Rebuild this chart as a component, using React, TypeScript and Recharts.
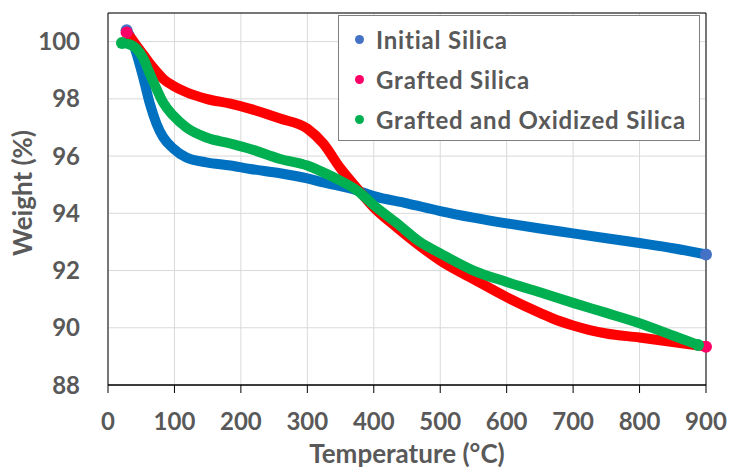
import React from 'react';
import { LineChart, Line, XAxis, YAxis, CartesianGrid, ReferenceArea, Label } from 'recharts';

const xTicks = [0, 100, 200, 300, 400, 500, 600, 700, 800, 900];
const yTicks = [88, 90, 92, 94, 96, 98, 100];

const initialT = [28, 35, 43, 53, 63, 73, 83, 98, 118, 148, 184, 214, 259, 300, 324, 375, 400, 450, 500, 550, 600, 650, 700, 750, 800, 850, 900];
const initialW = [100.4, 100.1, 99.58, 98.75, 97.83, 97.13, 96.66, 96.27, 95.95, 95.78, 95.67, 95.55, 95.4, 95.22, 95.08, 94.8, 94.6, 94.35, 94.08, 93.85, 93.65, 93.47, 93.3, 93.13, 92.96, 92.78, 92.56];

const graftedT = [28, 35, 43, 53, 63, 73, 83, 98, 118, 148, 184, 214, 259, 300, 324, 349, 375, 400, 435, 470, 500, 550, 600, 650, 675, 700, 725, 750, 800, 850, 900];
const graftedW = [100.32, 100.12, 99.86, 99.55, 99.23, 98.95, 98.7, 98.46, 98.23, 98.0, 97.83, 97.65, 97.31, 96.96, 96.44, 95.6, 94.87, 94.2, 93.5, 92.85, 92.35, 91.7, 91.07, 90.52, 90.27, 90.08, 89.92, 89.8, 89.66, 89.5, 89.34];

const oxidizedT = [21, 30, 43, 53, 63, 73, 83, 98, 118, 148, 184, 214, 259, 300, 324, 349, 375, 400, 435, 470, 500, 550, 600, 650, 700, 750, 800, 850, 888];
const oxidizedW = [99.95, 99.92, 99.75, 99.42, 98.88, 98.35, 97.87, 97.42, 97.0, 96.65, 96.44, 96.25, 95.9, 95.67, 95.43, 95.15, 94.8, 94.28, 93.65, 92.99, 92.6, 92.0, 91.6, 91.24, 90.87, 90.52, 90.16, 89.73, 89.4];

const series = [
  { name: 'Initial Silica', t: initialT, w: initialW, line: '#0070C0', marker: '#4472C4' },
  { name: 'Grafted Silica', t: graftedT, w: graftedW, line: '#FF0000', marker: '#FF0066' },
  { name: 'Grafted and Oxidized Silica', t: oxidizedT, w: oxidizedW, line: '#00B050', marker: '#00B050' },
];

const FONT = 'Lato, "Open Sans", sans-serif';
const TEXT = '#595959';

const endDot = (color: string, last: number) => (props: any) => {
  const { cx, cy, index } = props;
  if (index !== 0 && index !== last) return <g key={`d-${index}`} />;
  return <circle key={`d-${index}`} cx={cx} cy={cy} r={6} fill={color} />;
};

const LegendBox = () => (
  <div
    style={{
      position: 'absolute',
      left: 338,
      top: 15,
      width: 362,
      height: 126,
      background: '#fff',
      border: '1px solid #7f7f7f',
      boxSizing: 'border-box',
      paddingTop: 3,
      fontFamily: FONT,
      fontWeight: 700,
      fontSize: 24,
      letterSpacing: 0.8,
      color: TEXT,
    }}
  >
    {series.map((s) => (
      <div key={s.name} style={{ display: 'flex', alignItems: 'center', height: 40 }}>
        <span
          style={{
            display: 'inline-block',
            width: 9,
            height: 9,
            borderRadius: '50%',
            background: s.marker,
            marginLeft: 16,
            marginRight: 12,
          }}
        />
        <span>{s.name}</span>
      </div>
    ))}
  </div>
);

export default function App() {
  return (
    <div style={{ position: 'absolute', left: 0, top: 0, width: 729, height: 468, background: '#fff' }}>
      <LineChart width={729} height={468} margin={{ top: 13, right: 23, left: 0, bottom: 0 }}>
        <CartesianGrid stroke="#D9D9D9" strokeWidth={1} />
        <XAxis
          dataKey="t"
          type="number"
          domain={[0, 900]}
          ticks={xTicks}
          height={83}
          axisLine={{ stroke: '#000' }}
          tickLine={{ stroke: '#000' }}
          tickSize={8}
          tickMargin={20}
          tick={{ fill: TEXT, fontSize: 24, fontWeight: 700, fontFamily: FONT }}
        >
          <Label
            content={({ viewBox }: any) => (
              <text
                x={viewBox.x + viewBox.width / 2}
                y={viewBox.y + 78}
                textAnchor="middle"
                fill={TEXT}
                fontSize={26}
                fontWeight={700}
                fontFamily={FONT}
              >
                Temperature (°C)
              </text>
            )}
          />
        </XAxis>
        <YAxis
          dataKey="w"
          type="number"
          domain={[88, 101]}
          ticks={yTicks}
          width={108}
          axisLine={false}
          tickLine={false}
          tickSize={0}
          tickMargin={28}
          tick={{ fill: TEXT, fontSize: 24, fontWeight: 700, fontFamily: FONT }}
        >
          <Label
            content={({ viewBox }: any) => {
              const cx = 32;
              const cy = viewBox.y + viewBox.height / 2 - 6;
              return (
                <text
                  x={cx}
                  y={cy}
                  transform={`rotate(-90, ${cx}, ${cy})`}
                  textAnchor="middle"
                  fill={TEXT}
                  fontSize={26}
                  fontWeight={700}
                  fontFamily={FONT}
                >
                  Weight (%)
                </text>
              );
            }}
          />
        </YAxis>
        <ReferenceArea x1={0} x2={900} y1={88} y2={101} fill="none" stroke="#000" strokeWidth={1} ifOverflow="visible" />
        {series.map((s) => (
          <Line
            key={s.name}
            name={s.name}
            data={s.t.map((t, i) => ({ t, w: s.w[i] }))}
            dataKey="w"
            type="monotone"
            stroke={s.line}
            strokeWidth={10}
            strokeLinecap="round"
            dot={endDot(s.marker, s.t.length - 1)}
            activeDot={false}
            isAnimationActive={false}
          />
        ))}
      </LineChart>
      <LegendBox />
    </div>
  );
}
